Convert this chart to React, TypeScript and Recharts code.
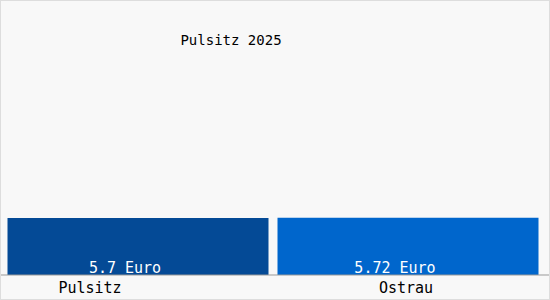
import React from "react"
import { BarChart, Bar, XAxis, YAxis, Cell, LabelList } from "recharts"

const places = ["Pulsitz", "Ostrau"]
const prices = [5.7, 5.72]
const barLabels = ["5.7 Euro", "5.72 Euro"]
const barColors = ["#044a96", "#0066cc"]
const title = "Pulsitz 2025"

const data = places.map((name, i) => ({ name, price: prices[i], label: barLabels[i] }))

const FONT = "'DejaVu Sans Mono', monospace"

// tick labels are not centred on the bars in the original
const tickShift = [-48, -2]

const PlaceTick = (props: any) => {
  const { x, y, payload, index } = props
  return (
    <text x={x + (tickShift[index] || 0)} y={y} dy={18} textAnchor="middle" fill="#000" fontSize={15} fontFamily={FONT}>
      {payload.value}
    </text>
  )
}

const PriceLabel = (props: any) => {
  const { x, y, width, height, value } = props
  return (
    <text x={x + width / 2 - 13} y={y + height - 2} textAnchor="middle" fill="#fff" fontSize={15} fontFamily={FONT}>
      {value}
    </text>
  )
}

export default function App() {
  return (
    <div style={{ position: "absolute", left: 0, top: 0, width: 550, height: 300, background: "#f8f8f8" }}>
      <BarChart width={550} height={300} data={data} margin={{ top: 20, right: 7, bottom: 0, left: 3 }} barCategoryGap={4.5}>
        <XAxis
          dataKey="name"
          height={25}
          tickSize={0}
          tickMargin={0}
          tickLine={false}
          axisLine={false}
          tick={<PlaceTick />}
          interval={0}
        />
        <YAxis hide domain={[0, 25.5]} />
        <Bar dataKey="price" isAnimationActive={false}>
          {data.map((d, i) => (
            <Cell key={d.name} fill={barColors[i]} />
          ))}
          <LabelList dataKey="label" content={<PriceLabel />} />
        </Bar>
      </BarChart>
      <svg width={550} height={300} style={{ position: "absolute", left: 0, top: 0, pointerEvents: "none" }}>
        <rect x={0.5} y={0.5} width={549} height={299} fill="none" stroke="#ddd" />
        <line x1={1} x2={549} y1={275} y2={275} stroke="#999" />
        <text x={231} y={45} textAnchor="middle" fill="#000" fontSize={14} fontFamily={FONT}>
          {title}
        </text>
      </svg>
    </div>
  )
}
